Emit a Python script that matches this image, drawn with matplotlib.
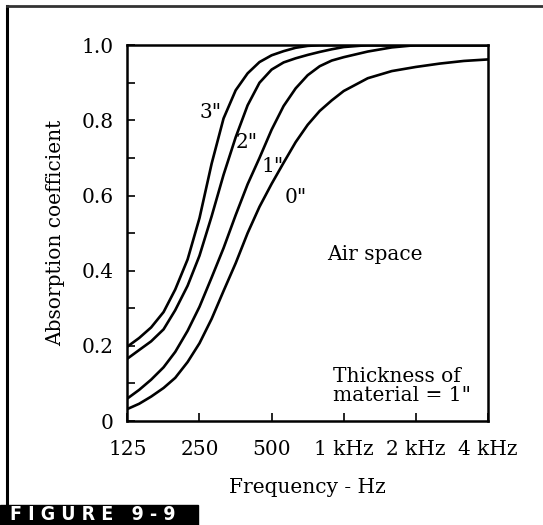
import matplotlib
matplotlib.use("Agg")
import matplotlib.pyplot as plt
from matplotlib.lines import Line2D
from matplotlib.patches import Rectangle

# Frequency grid (Hz), sixth-octave steps from 125 Hz
freq = [125, 140, 157, 177, 198, 223, 250, 281, 315, 354, 397, 445, 500,
        561, 630, 707, 794, 891, 1000, 1260, 1587, 2000, 2520, 3175, 4000]

# Absorption coefficient for 1" material with different air spaces behind it
air_3in = [0.198, 0.221, 0.249, 0.29, 0.35, 0.43, 0.54, 0.685, 0.805, 0.88,
           0.925, 0.955, 0.973, 0.984, 0.993, 0.998, 1.0, 1.0, 1.0, 1.0,
           1.0, 1.0, 1.0, 1.0, 1.0]
air_2in = [0.166, 0.189, 0.212, 0.244, 0.295, 0.36, 0.44, 0.545, 0.655, 0.755,
           0.84, 0.90, 0.935, 0.954, 0.965, 0.974, 0.982, 0.989, 0.995, 1.0,
           1.0, 1.0, 1.0, 1.0, 1.0]
air_1in = [0.06, 0.083, 0.11, 0.143, 0.184, 0.24, 0.304, 0.382, 0.46, 0.548,
           0.63, 0.70, 0.775, 0.838, 0.885, 0.92, 0.944, 0.959, 0.968, 0.983,
           0.994, 1.0, 1.0, 1.0, 1.0]
air_0in = [0.032, 0.046, 0.065, 0.088, 0.115, 0.157, 0.207, 0.272, 0.346,
           0.42, 0.50, 0.57, 0.631, 0.687, 0.742, 0.788, 0.825, 0.853, 0.878,
           0.912, 0.931, 0.942, 0.951, 0.958, 0.962]

series = [air_3in, air_2in, air_1in, air_0in]
series_labels = ['3"', '2"', '1"', '0"']
label_pos = [(279, 0.82), (395, 0.74), (507, 0.678), (632, 0.595)]

xticks = [125, 250, 500, 1000, 2000, 4000]
xticklabels = ["125", "250", "500", "1 kHz", "2 kHz", "4 kHz"]
yticks = [0, 0.2, 0.4, 0.6, 0.8, 1.0]
yticklabels = ["0", "0.2", "0.4", "0.6", "0.8", "1.0"]

serif = "DejaVu Serif"
fs = 14.5

fig = plt.figure(figsize=(5.43, 5.25), dpi=100)
ax = fig.add_axes([0.2346, 0.198, 0.664, 0.716])

for vals in series:
    ax.plot(freq, vals, color="black", lw=1.9, solid_capstyle="round")

for txt, (x, y) in zip(series_labels, label_pos):
    ax.text(x, y, txt, ha="center", va="center", fontsize=fs, family=serif)

ax.text(1350, 0.443, "Air space", ha="center", va="center", fontsize=fs,
        family=serif)
ax.text(905, 0.093, 'Thickness of\nmaterial = 1"', ha="left", va="center",
        fontsize=fs, family=serif, linespacing=1.0, multialignment="left")

ax.set_xscale("log", base=2)
ax.set_xlim(125, 4000)
ax.set_ylim(0, 1.0)
ax.set_xticks(xticks)
ax.set_xticklabels(xticklabels, family=serif, fontsize=fs)
ax.xaxis.set_minor_locator(matplotlib.ticker.NullLocator())
ax.set_yticks(yticks)
ax.set_yticklabels(yticklabels, family=serif, fontsize=fs)
ax.set_yticks([0.1, 0.3, 0.5, 0.7, 0.9], minor=True)

ax.tick_params(axis="x", which="major", direction="in", length=6, width=1.2,
               pad=14)
ax.tick_params(axis="y", which="both", direction="in", length=6, width=1.2,
               pad=10)
for s in ax.spines.values():
    s.set_linewidth(1.8)

ax.set_xlabel("Frequency - Hz", family=serif, fontsize=fs, labelpad=13)
ax.set_ylabel("Absorption coefficient", family=serif, fontsize=fs,
              labelpad=12)

# Page frame around the figure
W, H = 543, 525
fig.add_artist(Line2D([7 / W, 7 / W], [0, 1 - 6 / H], color="black", lw=2.2,
                      transform=fig.transFigure))
fig.add_artist(Line2D([7 / W, 1], [1 - 6 / H, 1 - 6 / H], color="#333333",
                      lw=2.0, transform=fig.transFigure))

# Figure caption tab
fig.add_artist(Rectangle((0, 0), 198 / W, 20 / H, color="black",
                         transform=fig.transFigure))
fig.text(10 / W, 10.5 / H, "F I G U R E   9 - 9", color="white",
         fontsize=14, fontweight="heavy", family="DejaVu Sans",
         fontstretch="condensed", va="center", ha="left")

fig.savefig("out.png", dpi=100)
